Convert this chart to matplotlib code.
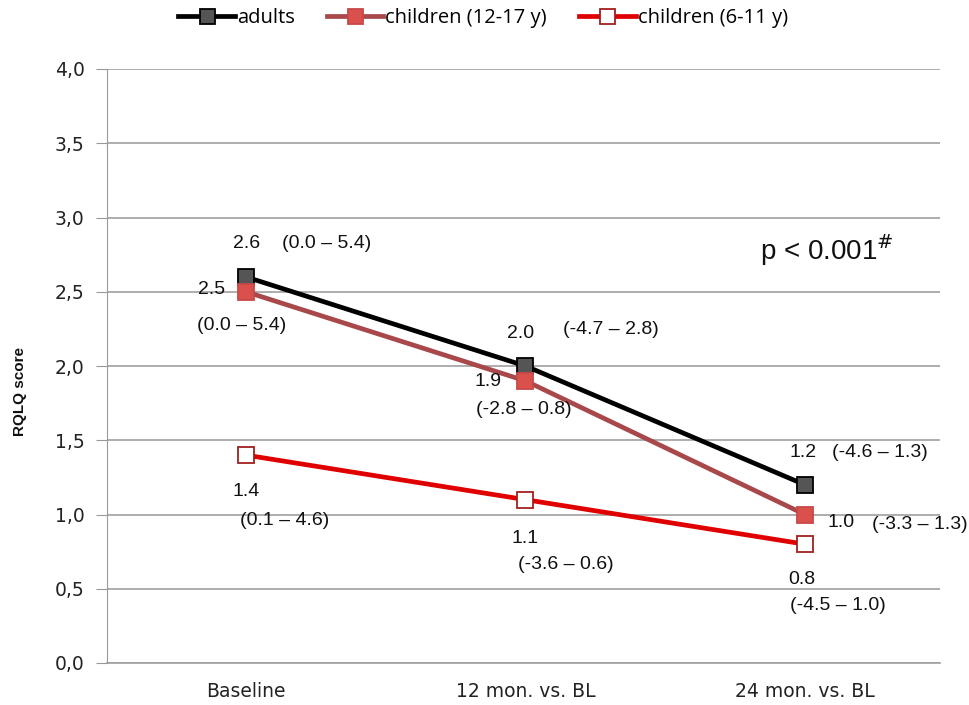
import matplotlib
matplotlib.use("Agg")
import matplotlib.pyplot as plt

categories = ["Baseline", "12 mon. vs. BL", "24 mon. vs. BL"]
series_names = ["adults", "children (12-17 y)", "children (6-11 y)"]
adults = [2.6, 2.0, 1.2]
children_12_17 = [2.5, 1.9, 1.0]
children_6_11 = [1.4, 1.1, 0.8]
adults_ci = ["(0.0 – 5.4)", "(-4.7 – 2.8)", "(-4.6 – 1.3)"]
c1217_ci = ["(0.0 – 5.4)", "(-2.8 – 0.8)", "(-3.3 – 1.3)"]
c611_ci = ["(0.1 – 4.6)", "(-3.6 – 0.6)", "(-4.5 – 1.0)"]
yticks = [0.0, 0.5, 1.0, 1.5, 2.0, 2.5, 3.0, 3.5, 4.0]
ytick_labels = ["0,0", "0,5", "1,0", "1,5", "2,0", "2,5", "3,0", "3,5", "4,0"]

W, H = 970, 705
fig = plt.figure(figsize=(W/100, H/100), dpi=100)
ax = fig.add_axes([107/W, 1-663/H, (940-107)/W, (663-69)/H])

x = list(range(len(categories)))
styles = [
    dict(color="black", lw=3.4, marker="s", ms=12, mfc="#555555", mec="black", mew=1.3),
    dict(color="#A8484B", lw=3.4, marker="s", ms=12, mfc="#D9504C", mec="#C84848", mew=1.3),
    dict(color="#E00000", lw=3.4, marker="s", ms=12, mfc="white", mec="#A02020", mew=1.3),
]
handles = []
for vals, name, st in zip([adults, children_12_17, children_6_11], series_names, styles):
    h, = ax.plot(x, vals, label=name, zorder=3, **st)
    handles.append(h)

ax.set_xlim(-0.497, 2.483)
ax.set_ylim(0, 4.0)
ax.set_yticks(yticks)
ax.set_yticklabels(ytick_labels, fontsize=13.5, family="DejaVu Sans", color="#222222")
ax.set_xticks(x)
ax.set_xticklabels(categories, fontsize=13.5, family="DejaVu Sans", color="#222222")
ax.tick_params(axis="x", length=0, pad=14)
ax.tick_params(axis="y", length=8, color="#999999", direction="out", pad=8)
ax.grid(axis="y", color="#A0A0A0", lw=1.2)
ax.axhline(0, color="#A0A0A0", lw=1.2, clip_on=False, zorder=1)
ax.set_axisbelow(True)
for s in ["top", "right", "bottom"]:
    ax.spines[s].set_visible(False)
ax.spines["left"].set_color("#999999")

fig.text(20/W, 1-392/H, "RQLQ score", rotation=90, fontsize=11, fontweight="bold",
         family="Liberation Sans", ha="center", va="center", color="#111111")

lab_font = dict(fontsize=14, family="Liberation Sans", color="#111111")

def lab(xi, yi, text, dx, dy):
    ax.annotate(text, (xi, yi), xytext=(dx, dy), textcoords="offset pixels",
                ha="center", va="center", **lab_font)

adult_off = [((1, 33), (81, 33)), ((-5, 33), (85, 36)), ((-2, 32), (75, 32))]
c1217_off = [((-34, 2), (-4, -34)), ((-37, -1), (-2, -29)), ((36, -8), (115, -10))]
c611_off = [((0, -36), (39, -65)), ((0, -39), (40, -65)), ((-3, -35), (33, -61))]
for vals, cis, offs in [(adults, adults_ci, adult_off), (children_12_17, c1217_ci, c1217_off),
                        (children_6_11, c611_ci, c611_off)]:
    for i, (v, ci, (o1, o2)) in enumerate(zip(vals, cis, offs)):
        lab(i, v, f"{v:.1f}", *o1)
        lab(i, v, ci, *o2)

fig.text(827/W, 1-250/H, r"p < 0.001$^{\#}$", fontsize=20, family="Liberation Sans",
         ha="center", va="center", color="#111111")

fig.legend(handles=handles, loc="center", bbox_to_anchor=(483/W, 1-18/H), ncol=3,
           frameon=False, handlelength=2.8, columnspacing=1.6, handletextpad=0.1,
           markerscale=0.9, prop=dict(family="Open Sans", size=14.5))

fig.savefig("out.png", dpi=100)
